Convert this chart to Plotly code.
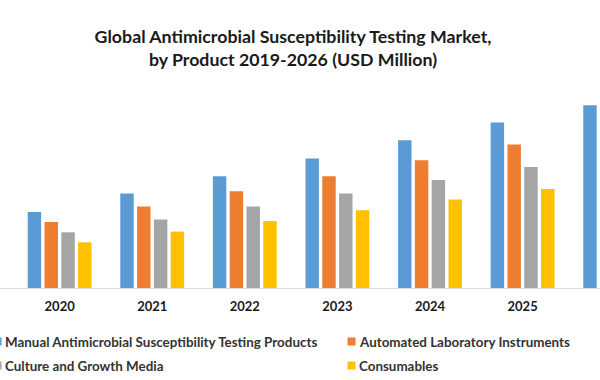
import plotly.graph_objects as go

# ---- data (USD Million) ----
years = ["2020", "2021", "2022", "2023", "2024", "2025", "2026"]
manual_ast = [760, 944, 1117, 1294, 1477, 1654, 1827]
automated_instruments = [660, 814, 967, 1117, 1277, 1434, 1600]
culture_media = [557, 684, 814, 944, 1080, 1210, 1350]
consumables = [457, 564, 670, 777, 884, 990, 1100]

series_names = [
    "Manual Antimicrobial Susceptibility Testing Products",
    "Automated Laboratory Instruments",
    "Culture and Growth Media",
    "Consumables",
]
series_values = [manual_ast, automated_instruments, culture_media, consumables]
colors = ["#5B9BD5", "#ED7D31", "#A5A5A5", "#FFC000"]

W, H = 600, 380
M_T, M_B = 100, 92
FONT = "Lato"

fig = go.Figure()
for name, vals, col in zip(series_names, series_values, colors):
    fig.add_trace(go.Bar(x=years, y=vals, name=name, marker_color=col,
                         marker_line_width=0, showlegend=False))

def px_x(p):
    return p / W

def px_y(p):
    return (H - M_B - p) / (H - M_T - M_B)

# custom legend (2 columns x 2 rows) matching the reference layout
legend_pos = [(-6.5, 341.5), (347.5, 341.5), (-6.5, 365.5), (347.5, 365.5)]
shapes = []
annotations = []
for (lx, ly), name, col in zip(legend_pos, series_names, colors):
    shapes.append(dict(type="rect", xref="paper", yref="paper",
                       x0=px_x(lx), x1=px_x(lx + 8),
                       y0=px_y(ly + 4), y1=px_y(ly - 4),
                       fillcolor=col, line_width=0))
    annotations.append(dict(text=name, xref="paper", yref="paper",
                            x=px_x(lx + 9), y=px_y(ly), xanchor="left",
                            yanchor="middle", showarrow=False,
                            font=dict(family=FONT, size=13.4, color="#333333",
                                      weight="bold")))

fig.update_layout(
    width=W, height=H,
    margin=dict(l=0, r=0, t=M_T, b=M_B),
    paper_bgcolor="white", plot_bgcolor="white",
    barmode="group", bargap=0.274, bargroupgap=0.2,
    title=dict(text="Global Antimicrobial Susceptibility Testing Market,<br>by Product 2019-2026 (USD Million)",
               x=293 / W, xanchor="center", xref="paper",
               y=1 - 43 / H, yanchor="top", yref="container",
               font=dict(family=FONT, size=17.75, color="#1a1a1a", weight="bold")),
    xaxis=dict(type="category", range=[-0.644, 5.836], showline=True,
               linecolor="#d9d9d9", linewidth=1, ticks="", showgrid=False,
               ticklabelstandoff=6,
               tickfont=dict(family=FONT, size=13, color="#1a1a1a", weight="bold")),
    yaxis=dict(range=[0, 1880], visible=False, showgrid=False),
    shapes=shapes,
    annotations=annotations,
)

fig.write_html("out.html",
               config={"displayModeBar": False},
               post_script="document.body.style.margin='0';document.body.style.overflow='hidden';")
